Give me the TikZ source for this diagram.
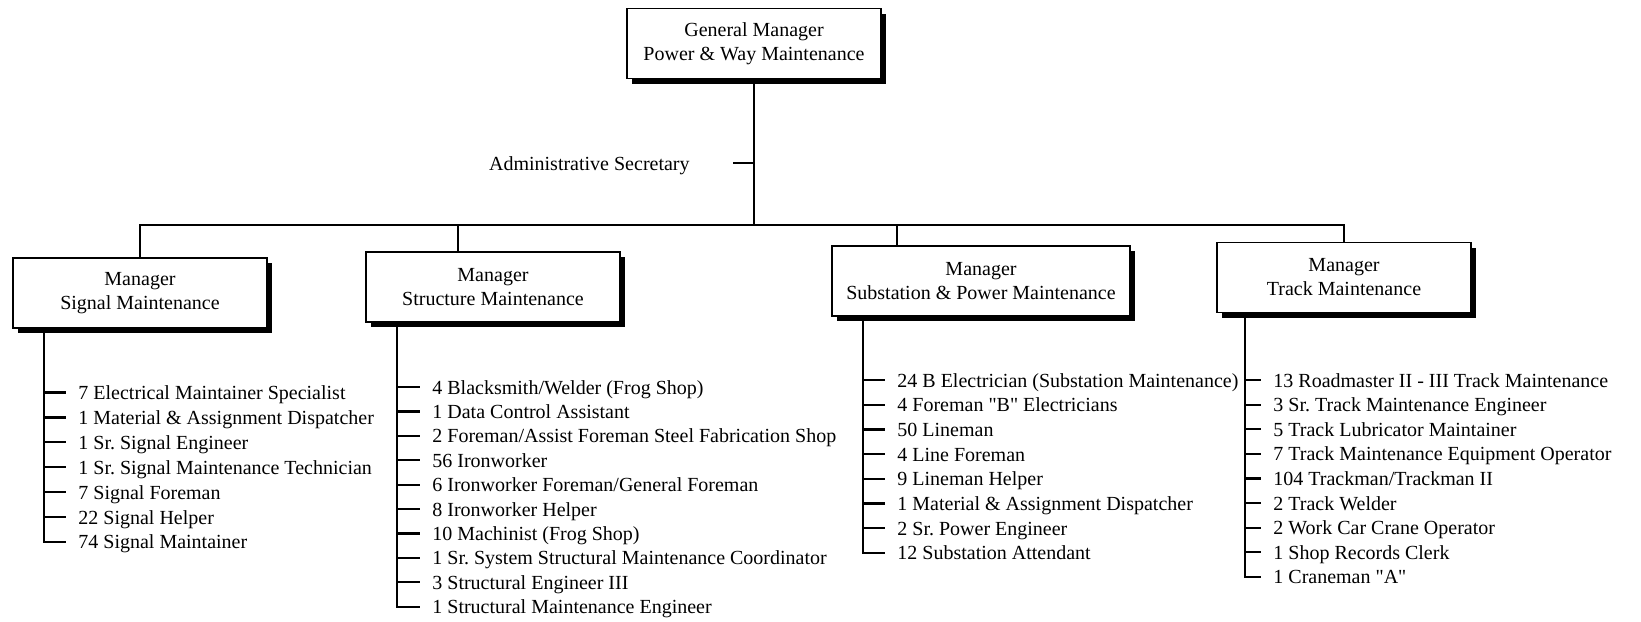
\documentclass[tikz,border=0pt]{standalone}
\usepackage{fontspec}
\setmainfont{Liberation Serif}
\usetikzlibrary{shadows}

\begin{document}
\begin{tikzpicture}[
    x=0.5pt, y=-0.5pt,
    font=\fontsize{10}{12}\selectfont,
    headbox/.style={rectangle, draw=black, line width=0.9pt, fill=white, align=center, minimum width=127pt, minimum height=35pt, inner sep=2pt, drop shadow={shadow xshift=2.5pt, shadow yshift=-2.5pt, opacity=1, fill=black}},
    link/.style={line width=1.1pt},
    post/.style={anchor=west, inner sep=0pt, text height=7pt, text depth=0pt}
]
\useasboundingbox (0,0) rectangle (1641,621);

% Boxes for the general manager and the four managers
\node[headbox] (gm) at (754,43.5) {General Manager\\Power \& Way Maintenance};
\node[headbox] (sig) at (140,293) {Manager\\Signal Maintenance};
\node[headbox] (str) at (493,287) {Manager\\Structure Maintenance};
\node[headbox, minimum width=149pt] (sub) at (981,281) {Manager\\Substation \& Power Maintenance};
\node[headbox] (trk) at (1344,277.5) {Manager\\Track Maintenance};

% Main line and bus to the managers
\coordinate (bus) at (754,225);
\coordinate (strdrop) at ([xshift=-17.5pt]str.north);
\coordinate (subdrop) at ([xshift=-42pt]sub.north);
\draw[link] (gm.south) -- (bus);
\draw[link] (sig.north) |- (bus) -| (trk.north);
\draw[link] (strdrop) -- (strdrop |- bus);
\draw[link] (subdrop) -- (subdrop |- bus);

% Secretary on the main line
\node[post, anchor=east] (sec) at (690,163) {Administrative Secretary};
\draw[link] ([xshift=21.5pt]sec.east) -- (sec.east -| bus);

% Signal staff
\coordinate (sigl) at (44,0);
\foreach \txt [count=\i] in {7 Electrical Maintainer Specialist, 1 Material \& Assignment Dispatcher, 1 Sr.\ Signal Engineer, 1 Sr.\ Signal Maintenance Technician, 7 Signal Foreman, 22 Signal Helper, 74 Signal Maintainer}
    \node[post] (sig\i) at (78,{392.5+24.9*(\i-1)}) {\txt};
\foreach \i in {1,...,6}
    \draw[link] (sig\i.west -| sigl) -- ([xshift=-6pt]sig\i.west);
\draw[link] (sig.south -| sigl) |- ([xshift=-6pt]sig7.west);

% Structure staff
\coordinate (strl) at (397,0);
\foreach \txt [count=\i] in {4 Blacksmith/Welder (Frog Shop), 1 Data Control Assistant, 2 Foreman/Assist Foreman Steel Fabrication Shop, 56 Ironworker, 6 Ironworker Foreman/General Foreman, 8 Ironworker Helper, 10 Machinist (Frog Shop), 1 Sr.\ System Structural Maintenance Coordinator, 3 Structural Engineer III, 1 Structural Maintenance Engineer}
    \node[post] (str\i) at (432,{387+24.4*(\i-1)}) {\txt};
\foreach \i in {1,...,9}
    \draw[link] (str\i.west -| strl) -- ([xshift=-6pt]str\i.west);
\draw[link] (str.south -| strl) |- ([xshift=-6pt]str10.west);

% Substation staff
\coordinate (subl) at (863,0);
\foreach \txt [count=\i] in {24 B Electrician (Substation Maintenance), 4 Foreman \textquotedbl B\textquotedbl\ Electricians, 50 Lineman, 4 Line Foreman, 9 Lineman Helper, 1 Material \& Assignment Dispatcher, 2 Sr.\ Power Engineer, 12 Substation Attendant}
    \node[post] (sub\i) at (897,{380+24.7*(\i-1)}) {\txt};
\foreach \i in {1,...,7}
    \draw[link] (sub\i.west -| subl) -- ([xshift=-6pt]sub\i.west);
\draw[link] (sub.south -| subl) |- ([xshift=-6pt]sub8.west);

% Track staff
\coordinate (trkl) at (1245,0);
\foreach \txt [count=\i] in {13 Roadmaster II - III Track Maintenance, 3 Sr.\ Track Maintenance Engineer, 5 Track Lubricator Maintainer, 7 Track Maintenance Equipment Operator, 104 Trackman/Trackman II, 2 Track Welder, 2 Work Car Crane Operator, 1 Shop Records Clerk, 1 Craneman \textquotedbl A\textquotedbl}
    \node[post] (trk\i) at (1273,{380+24.6*(\i-1)}) {\txt};
\foreach \i in {1,...,8}
    \draw[link] (trk\i.west -| trkl) -- ([xshift=-6pt]trk\i.west);
\draw[link] (trk.south -| trkl) |- ([xshift=-6pt]trk9.west);

\end{tikzpicture}
\end{document}
